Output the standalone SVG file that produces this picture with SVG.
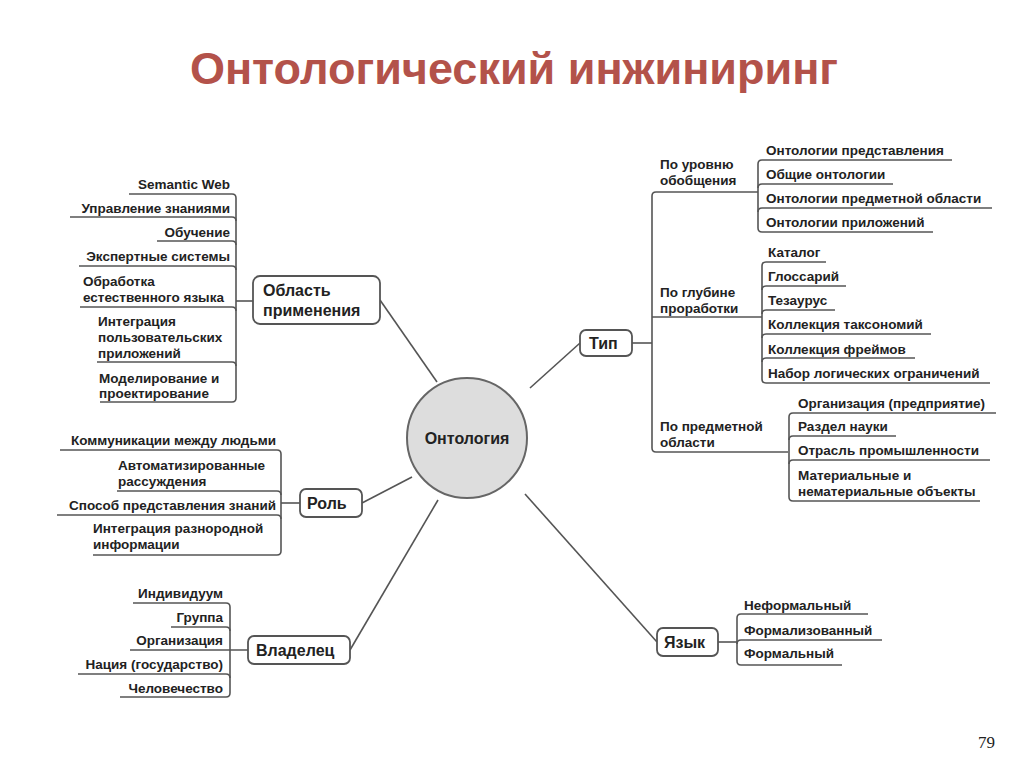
<svg xmlns="http://www.w3.org/2000/svg" width="1024" height="767" viewBox="0 0 1024 767">
<style>
text{font-family:"Liberation Sans",Arial,sans-serif;font-weight:bold;font-size:13.5px;fill:#222}
.r{text-anchor:end}
.b{font-size:16px}
.t{font-size:45px;fill:#b3524a;text-anchor:middle}
.n{font-family:"Liberation Serif",serif;font-weight:normal;font-size:17px}
path,line{stroke:#555;stroke-width:1.6;fill:none}
rect{fill:#fff;stroke:#555;stroke-width:1.8}
</style>
<rect x="0" y="0" width="1024" height="767" style="fill:#fff;stroke:none"/>
<text class="t" x="514" y="84">Онтологический инжиниринг</text>
<text class="n" x="978" y="748">79</text>
<g id="connectors">
<path d="M380,300 L437,382"/><path d="M362,503 L412,477"/><path d="M350,650 L438,500"/>
<path d="M530,388 L580,343"/><path d="M525,494 L657,642"/>
<path d="M129,194 H232 Q236,194 236,198 V398 Q236,402 232,402 H100"/>
<path d="M70,217 H232 Q236,217 236,221"/><path d="M157,241 H232 Q236,241 236,245"/>
<path d="M79,266 H232 Q236,266 236,270"/><path d="M80,307 H232 Q236,307 236,311"/>
<path d="M97,362 H232 Q236,362 236,366"/><path d="M236,301 H253"/>
<path d="M60,450 H277 Q281,450 281,454 V551 Q281,555 277,555 H93"/>
<path d="M117,491 H277 Q281,491 281,495"/><path d="M57,515 H277 Q281,515 281,519"/>
<path d="M281,503 H300"/>
<path d="M133,603 H226 Q230,603 230,607 V693 Q230,697 226,697 H120"/>
<path d="M171,627 H226 Q230,627 230,631"/><path d="M130,650 H248"/>
<path d="M78,674 H226 Q230,674 230,678"/>
<path d="M632,343 H652"/>
<path d="M758,192 H656 Q652,192 652,196 V448 Q652,452 656,452 H788"/>
<path d="M652,317 H762"/>
<path d="M952,160 H762 Q758,160 758,164 V228 Q758,232 762,232 H933"/>
<path d="M893,184 H762 Q758,184 758,188"/><path d="M992,208 H762 Q758,208 758,212"/>
<path d="M826,262 H766 Q762,262 762,266 V379 Q762,383 766,383 H990"/>
<path d="M846,286 H766 Q762,286 762,290"/><path d="M835,310 H766 Q762,310 762,314"/>
<path d="M931,334 H766 Q762,334 762,338"/><path d="M915,358 H766 Q762,358 762,362"/>
<path d="M996,413 H793 Q789,413 789,417 V497 Q789,501 793,501 H980"/>
<path d="M896,436 H793 Q789,436 789,440"/><path d="M990,460 H793 Q789,460 789,464"/>
<path d="M718,642 H737"/>
<path d="M868,614 H741 Q737,614 737,618 V661 Q737,665 741,665 H842"/>
<path d="M882,640 H741 Q737,640 737,644"/>
</g>
<g id="center"><circle cx="467" cy="438" r="60" style="fill:#ddd;stroke:#666;stroke-width:2"/><text class="b" x="467" y="444" text-anchor="middle">Онтология</text></g>
<g id="area"><rect x="253" y="276" width="127" height="48" rx="7"/><text class="b" x="263" y="296">Область</text><text class="b" x="263" y="316">применения</text>
<text class="r" x="230" y="189">Semantic Web</text><text class="r" x="230" y="213">Управление знаниями</text><text class="r" x="230" y="237">Обучение</text><text class="r" x="230" y="261">Экспертные системы</text>
<text x="83" y="286">Обработка</text><text x="83" y="302">естественного языка</text>
<text x="98" y="326">Интеграция</text><text x="98" y="342">пользовательских</text><text x="98" y="358">приложений</text>
<text x="99" y="383">Моделирование и</text><text x="99" y="398">проектирование</text></g>
<g id="role"><rect x="300" y="489" width="62" height="28" rx="6"/><text class="b" x="307" y="509">Роль</text>
<text class="r" x="276" y="445">Коммуникации между людьми</text><text x="118" y="470">Автоматизированные</text><text x="118" y="486">рассуждения</text>
<text class="r" x="276" y="510">Способ представления знаний</text><text x="93" y="533">Интеграция разнородной</text><text x="93" y="549">информации</text></g>
<g id="owner"><rect x="248" y="636" width="102" height="28" rx="6"/><text class="b" x="256" y="656">Владелец</text>
<text class="r" x="223" y="598">Индивидуум</text><text class="r" x="223" y="622">Группа</text><text class="r" x="223" y="645">Организация</text><text class="r" x="223" y="669">Нация (государство)</text><text class="r" x="223" y="693">Человечество</text></g>
<g id="type"><rect x="580" y="330" width="52" height="26" rx="6"/><text class="b" x="589" y="349">Тип</text>
<text x="660" y="169">По уровню</text><text x="660" y="185">обобщения</text>
<text x="766" y="155">Онтологии представления</text><text x="766" y="179">Общие онтологии</text><text x="766" y="203">Онтологии предметной области</text><text x="766" y="227">Онтологии приложений</text>
<text x="660" y="297">По глубине</text><text x="660" y="313">проработки</text>
<text x="768" y="257">Каталог</text><text x="768" y="281">Глоссарий</text><text x="768" y="305">Тезаурус</text><text x="768" y="329">Коллекция таксономий</text><text x="768" y="354">Коллекция фреймов</text><text x="768" y="378">Набор логических ограничений</text>
<text x="660" y="431">По предметной</text><text x="660" y="447">области</text>
<text x="798" y="408">Организация (предприятие)</text><text x="798" y="431">Раздел науки</text><text x="798" y="455">Отрасль промышленности</text><text x="798" y="480">Материальные и</text><text x="798" y="496">нематериальные объекты</text></g>
<g id="lang"><rect x="657" y="628" width="61" height="28" rx="6"/><text class="b" x="664" y="648">Язык</text>
<text x="744" y="610">Неформальный</text><text x="744" y="635">Формализованный</text><text x="744" y="658">Формальный</text></g>
</svg>
